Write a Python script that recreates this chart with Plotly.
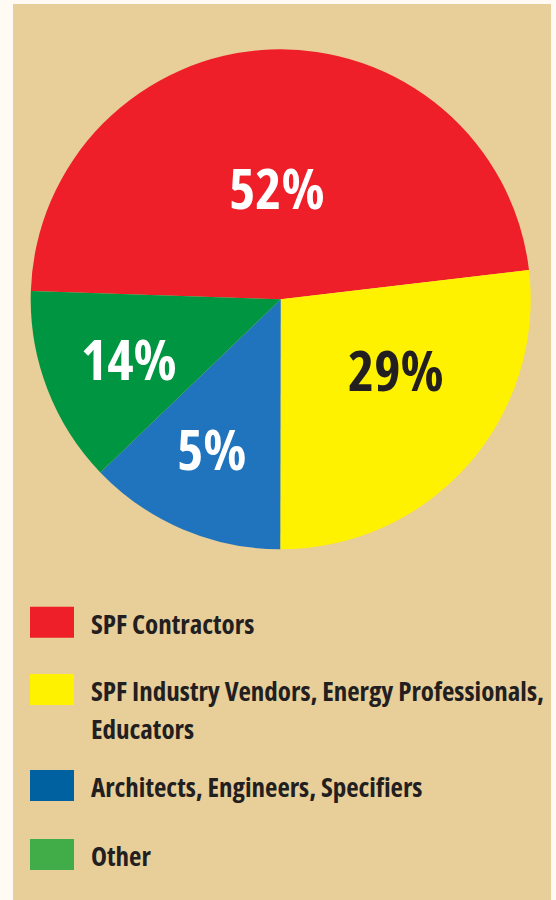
import math
import textwrap
import plotly.graph_objects as go

# ---- data ----
categories = [
    "SPF Contractors",
    "SPF Industry Vendors, Energy Professionals, Educators",
    "Architects, Engineers, Specifiers",
    "Other",
]
printed_labels = ["52%", "29%", "5%", "14%"]          # text printed on the slices
slice_shares = [47.6, 26.9, 12.8, 12.7]               # slice sizes as drawn (share of circle, %)

# ---- styles ----
pie_colors = ["#EE1F28", "#FFF200", "#1F74BD", "#009540"]
legend_colors = ["#EE1F28", "#FFF200", "#0061A1", "#41AD49"]
label_font_colors = ["white", "#231F20", "white", "white"]
FONT = "Open Sans, Roboto, sans-serif"


def condensed(s):
    return '<span style="font-stretch:75%%">%s</span>' % s


W, H = 556, 900
CX, CY, R = 280.7, 299.3, 250.0
START = 271.9   # clockwise degrees from 12 o'clock where first slice begins

fig = go.Figure()
fig.add_trace(go.Pie(
    labels=categories,
    values=slice_shares,
    sort=False,
    direction="clockwise",
    rotation=START,
    marker=dict(colors=pie_colors, line=dict(width=0)),
    textinfo="none",
    hoverinfo="label+value",
    showlegend=False,
    domain=dict(x=[(CX - R) / W, (CX + R) / W], y=[1 - (CY + R) / H, 1 - (CY - R) / H]),
))

# slice labels placed by angle computed from the data
angle_frac = [0.504, 0.399, 0.533, 0.482]   # position within slice (0..1 along sweep)
radius_frac = [0.441, 0.543, 0.663, 0.654]
total = sum(slice_shares)
cum = 0.0
annotations = []
for i, v in enumerate(slice_shares):
    a0 = START + 360 * cum / total
    sweep = 360 * v / total
    th = math.radians(a0 + sweep * angle_frac[i])
    r = R * radius_frac[i]
    px = CX + r * math.sin(th)
    py = CY - r * math.cos(th)
    annotations.append(dict(
        x=px / W, y=1 - (py - 2) / H, xref="paper", yref="paper",
        text=condensed(printed_labels[i]), showarrow=False,
        xanchor="center", yanchor="middle",
        font=dict(family=FONT, size=56, weight=700, color=label_font_colors[i]),
    ))
    cum += v

# custom legend
shapes = [dict(type="rect", xref="paper", yref="paper", x0=13 / W, x1=551 / W, y0=0, y1=1 - 4 / H,
               fillcolor="#E8CE99", line=dict(width=0), layer="below")]
legend_tops = [606.7, 674, 770, 839]
for i, cat in enumerate(categories):
    t = legend_tops[i]
    shapes.append(dict(type="rect", xref="paper", yref="paper",
                       x0=30 / W, x1=74 / W, y0=1 - (t + 31) / H, y1=1 - t / H,
                       fillcolor=legend_colors[i], line=dict(width=0)))
    for j, line in enumerate(textwrap.wrap(cat, width=44)):
        yc = t + 17.5 + j * 38
        annotations.append(dict(
            x=89 / W, y=1 - (yc - 0.8) / H, xref="paper", yref="paper",
            text=condensed(line), showarrow=False, xanchor="left", yanchor="middle",
            font=dict(family=FONT, size=27, weight=700, color="#231F20"),
        ))

fig.update_layout(
    width=W, height=H,
    margin=dict(l=0, r=0, t=0, b=0),
    paper_bgcolor="#FFFBF4",
    plot_bgcolor="#FFFBF4",
    shapes=shapes,
    annotations=annotations,
)
post = (
    "document.body.style.margin='0';"
    "document.body.style.background='#FFFBF4';"
)
fig.write_html("out.html", post_script=post, config={"displayModeBar": False})
